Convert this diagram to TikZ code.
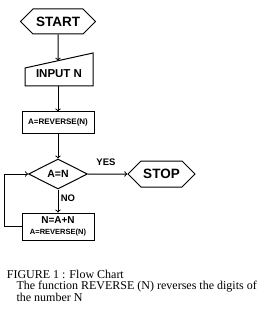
\documentclass[tikz,border=0pt]{standalone}
\usepackage{fontspec}
\setmainfont{Liberation Serif}
\setsansfont{Liberation Sans}
\usetikzlibrary{shapes.geometric,shapes.symbols,arrows,positioning}

\begin{document}
\begin{tikzpicture}[x=1pt,y=-1pt,line width=1pt,
  every node/.style={font=\sffamily\bfseries},
  term/.style={signal, signal to=west and east, draw, minimum height=25pt, inner sep=0pt},
  procbox/.style={rectangle, draw, minimum width=72pt, inner sep=1pt},
  decide/.style={diamond, draw, minimum width=59pt, minimum height=30pt, aspect=2, inner sep=0pt},
  flow/.style={->, >=to}]
\useasboundingbox (0,0) rectangle (269,323);
% Start
\node[term, minimum width=75pt, font=\sffamily\bfseries\fontsize{13.5}{15}\selectfont] (start) at (58,21.5) {START};
% Input
\draw (25,68) -- (93,53) -- (93,86) -- (25,86) -- cycle;
\node[font=\sffamily\bfseries\fontsize{11.5}{13}\selectfont] (input) at (59,74) {INPUT N};
\coordinate (intop) at (58,60.7);
\coordinate (inbot) at (58,86);
% Process
\node[procbox, minimum height=21pt, font=\sffamily\bfseries\fontsize{8}{9}\selectfont] (rev) at (58,122.5) {A=REVERSE(N)};
% Decision
\node[decide, font=\sffamily\bfseries\fontsize{10.5}{12}\selectfont] (test) at (58,174) {A=N};
\node[term, minimum width=67pt, minimum height=26pt, font=\sffamily\bfseries\fontsize{13.5}{15}\selectfont] (stop) at (161.5,174) {STOP};
\node[procbox, minimum height=27pt, align=center] (loop) at (58,226.5)
  {{\fontsize{10}{10}\selectfont N=A+N}\\[-1pt]{\fontsize{7.5}{8}\selectfont A=REVERSE(N)}};
% Labels
\node[font=\sffamily\bfseries\fontsize{9.5}{11}\selectfont] (yes) at (106,162) {YES};
\node[font=\sffamily\bfseries\fontsize{9.5}{11}\selectfont] (no) at (68,198) {NO};
% Connections
\draw[flow] (start) -- (intop);
\draw[flow] (inbot) -- (rev);
\draw[flow] (rev) -- (test);
\draw[flow] (test) -- (stop);
\draw[flow] (test) -- (loop);
\draw[flow] (loop.west) -- ++(-17,0) |- (test.west);
% Caption
\node[anchor=west, font=\rmfamily\mdseries\fontsize{12}{13}\selectfont] (cap) at (3,274) {FIGURE 1 : Flow Chart};
\node[anchor=north west, align=left, inner sep=0pt, font=\rmfamily\mdseries\fontsize{12}{11.5}\selectfont] (note) at (16,281)
  {The function REVERSE (N) reverses the digits of\\the number N};
\end{tikzpicture}
\end{document}
